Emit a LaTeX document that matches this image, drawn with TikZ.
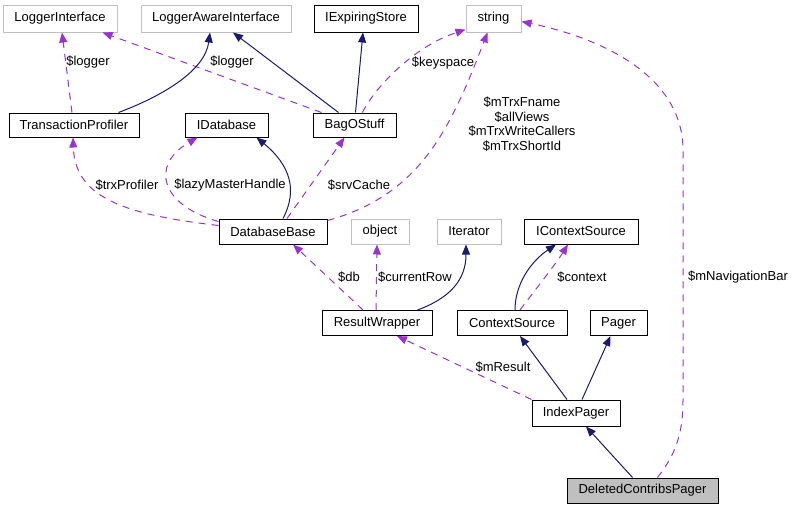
\documentclass[tikz,border=0pt]{standalone}
\usepackage{fontspec}
\setmainfont{Liberation Sans}
\usetikzlibrary{arrows.meta}
\definecolor{edgeblue}{RGB}{25,25,112}
\definecolor{edgepurple}{RGB}{154,50,205}
\definecolor{boxgray}{RGB}{191,191,191}
\begin{document}
\begin{tikzpicture}
    [x=1pt,y=-1pt,
    Node/.style={rectangle,draw=black,line width=1pt,inner sep=0pt,minimum height=25pt,font=\fontsize{13}{15}\selectfont},
    Ext/.style={Node,draw=boxgray},
    Focus/.style={Node,fill=boxgray},
    Inherit/.style={draw=edgeblue,line width=1pt,-{Triangle[length=10pt,width=8pt]}},
    Use/.style={draw=edgepurple,line width=1pt,dash pattern=on 7pt off 6pt,-{Triangle[length=10pt,width=8pt]}},
    Label/.style={inner sep=0pt,align=center,font=\fontsize{13}{14.7}\selectfont}]
    \useasboundingbox (0,0) rectangle (795,509);

    \node[Ext,minimum width=114pt,minimum height=27pt] (loggerif) at (60,18.5) {LoggerInterface};
    \node[Ext,minimum width=150pt,minimum height=27pt] (loggeraware) at (216,18.5) {LoggerAwareInterface};
    \node[Node,minimum width=104pt,minimum height=27pt] (iexpiring) at (366,18.5) {IExpiringStore};
    \node[Ext,minimum width=55pt,minimum height=27pt] (string) at (493.5,18.5) {string};

    \node[Node,minimum width=130pt,minimum height=24pt] (txprofiler) at (74,125) {TransactionProfiler};
    \node[Node,minimum width=83pt,minimum height=24pt] (idatabase) at (226.5,125) {IDatabase};
    \node[Node,minimum width=83pt,minimum height=24pt] (bagostuff) at (354.5,125) {BagOStuff};

    \node[Node,minimum width=108pt] (dbbase) at (273,231.5) {DatabaseBase};
    \node[Ext,minimum width=58pt] (object) at (380,231.5) {object};
    \node[Ext,minimum width=64pt] (iterator) at (469,231.5) {Iterator};
    \node[Node,minimum width=114pt] (icontext) at (581,231.5) {IContextSource};

    \node[Node,minimum width=110pt] (resultwrapper) at (377,323) {ResultWrapper};
    \node[Node,minimum width=110pt] (contextsource) at (512,323) {ContextSource};
    \node[Node,minimum width=57pt] (pager) at (618.5,323) {Pager};

    \node[Node,minimum width=88pt,minimum height=26pt] (indexpager) at (576,413) {IndexPager};
    \node[Focus,minimum width=151pt] (deleted) at (642.5,490.5) {DeletedContribsPager};

    % top row
    \draw[Use] ([xshift=-2pt]txprofiler.north) -- ([xshift=2pt]loggerif.south);
    \draw[Use] ([xshift=9pt]bagostuff.north west) -- ([xshift=-15pt]loggerif.south east);
    \draw[Inherit] ([xshift=-21pt]txprofiler.north east) .. controls (165,95) and (205,70) .. ([xshift=-6pt]loggeraware.south);
    \draw[Inherit] ([xshift=-16pt]bagostuff.north) -- ([xshift=17pt]loggeraware.south);
    \draw[Inherit] ([xshift=1pt]bagostuff.north) -- ([xshift=-3pt]iexpiring.south);
    \draw[Use] ([xshift=8pt]bagostuff.north) .. controls (372,92) and (410,48) .. ([yshift=3pt]string.south west);
    \node[Label] (lblogger) at (88,62) {\$logger};
    \node[Label] (lbloggerb) at (232,62) {\$logger};
    \node[Label] (lbkeyspace) at (443,63) {\$keyspace};

    % DatabaseBase
    \draw[Use] ([yshift=-2pt]dbbase.north east) .. controls (420,195) and (450,130) .. ([xshift=-6pt]string.south);
    \draw[Use] ([yshift=6pt]dbbase.west) .. controls (130,215) and (75,200) .. ([xshift=-1pt]txprofiler.south);
    \draw[Use] ([yshift=-3pt]dbbase.north west) .. controls (160,205) and (150,165) .. ([xshift=13pt]idatabase.south west);
    \draw[Inherit] ([xshift=10pt]dbbase.north) .. controls (298,190) and (290,165) .. ([xshift=30pt]idatabase.south);
    \draw[Use] ([xshift=14pt]dbbase.north) -- ([xshift=-10pt]bagostuff.south);
    \node[Label] (lbfields) at (522,124) {\$mTrxFname\\\$allViews\\\$mTrxWriteCallers\\\$mTrxShortId};
    \node[Label] (lbtrx) at (127,185) {\$trxProfiler};
    \node[Label] (lblazy) at (230,185) {\$lazyMasterHandle};
    \node[Label] (lbsrv) at (359,185) {\$srvCache};

    % ResultWrapper, ContextSource
    \draw[Use] ([xshift=-14pt]resultwrapper.north) -- ([xshift=20pt]dbbase.south);
    \draw[Use] ([xshift=-1pt]resultwrapper.north) -- ([xshift=-3pt]object.south);
    \draw[Inherit] ([xshift=-15pt]resultwrapper.north east) .. controls (450,298) and (466,280) .. ([xshift=-3pt]iterator.south);
    \draw[Inherit] ([xshift=3pt]contextsource.north) .. controls (515,285) and (530,262) .. ([xshift=-25pt]icontext.south);
    \draw[Use] ([xshift=8pt]contextsource.north) .. controls (535,290) and (555,265) .. ([xshift=-13pt]icontext.south);
    \node[Label] (lbdb) at (349,277) {\$db};
    \node[Label] (lbrow) at (415,277) {\$currentRow};
    \node[Label] (lbcontext) at (582,277) {\$context};

    % IndexPager, DeletedContribsPager
    \draw[Use] (indexpager.north west) -- ([xshift=20pt]resultwrapper.south);
    \draw[Inherit] ([xshift=-9pt]indexpager.north) -- ([xshift=8pt]contextsource.south);
    \draw[Inherit] ([xshift=6pt]indexpager.north) -- ([xshift=-8pt]pager.south);
    \draw[Inherit] ([xshift=-10pt]deleted.north) -- ([xshift=10pt]indexpager.south);
    \draw[Use] ([xshift=15pt]deleted.north) .. controls (675,455) and (683,435) .. (683,400)
        -- (683,150) .. controls (683,80) and (610,40) .. ([yshift=-3pt]string.east);
    \node[Label] (lbresult) at (503,367) {\$mResult};
    \node[Label] (lbnavbar) at (738,277) {\$mNavigationBar};
\end{tikzpicture}
\end{document}
